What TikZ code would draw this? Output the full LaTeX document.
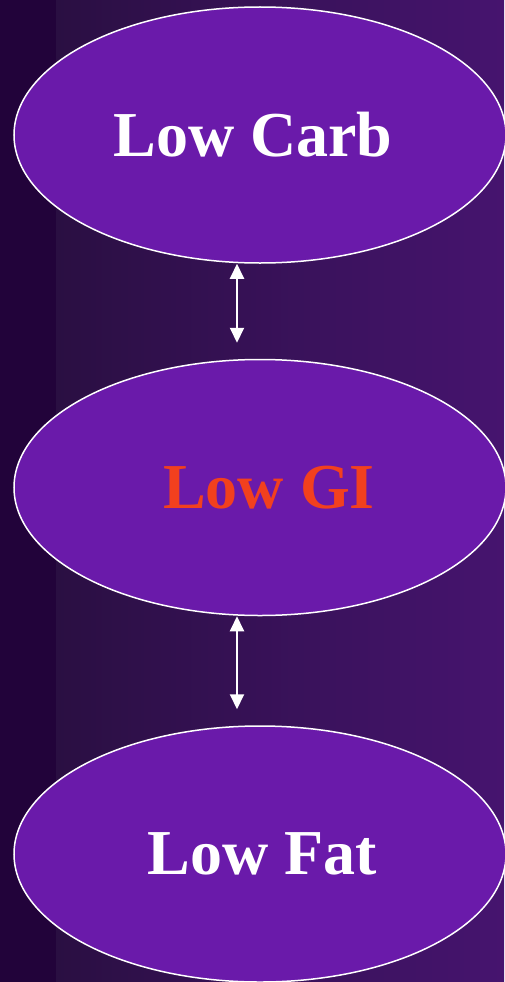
\documentclass[tikz,border=0pt]{standalone}
\usepackage{fontspec}
\setmainfont{Liberation Serif}
\usepackage{tikz}
\usetikzlibrary{
  shapes.geometric,
  arrows.meta,
  positioning,
  }
\definecolor{bgdark}{HTML}{22033A}
\definecolor{bgleft}{HTML}{2A0F42}
\definecolor{bgright}{HTML}{46146F}
\definecolor{ovalfill}{HTML}{6A1AAA}
\definecolor{giorange}{HTML}{F2401E}

\begin{document}
\begin{tikzpicture}[x=1pt,y=1pt,
    oval/.style={ellipse, draw=white, line width=1.5pt, fill=ovalfill,
                 minimum width=492pt, minimum height=256pt, inner sep=0pt,
                 font=\fontsize{64}{70}\selectfont\bfseries, text=white},
    link/.style={white, line width=2pt, shorten >=16pt,
                 {Triangle[width=14pt,length=15pt]}-{Triangle[width=14pt,length=15pt]}}]
                    \useasboundingbox (0,0) rectangle (504,-982);
                    \fill[bgdark] (0,0) rectangle (56,-982);
                    \shade[left color=bgleft, right color=bgright] (56,0) rectangle (504,-982);
                    \node[oval] (carb) at (260,-135) {\hspace*{-14pt}Low Carb};
                    \node[oval, below=95pt of carb] (gi) {\hspace*{18pt}\textcolor{giorange}{Low GI}};
                    \node[oval, below=109pt of gi] (fat) {\hspace*{4pt}Low Fat};
                    \draw[link] ([xshift=-23pt]carb.south) -- ([xshift=-23pt]gi.north);
                    \draw[link] ([xshift=-23pt]gi.south) -- ([xshift=-23pt]fat.north);
                \end{tikzpicture}
\end{document}
